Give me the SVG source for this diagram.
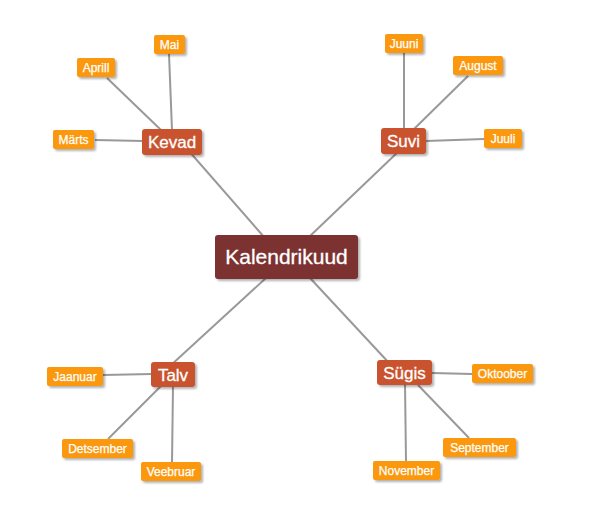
<svg xmlns="http://www.w3.org/2000/svg" width="603" height="532" viewBox="0 0 603 532">
<defs>
<filter id="sh" x="-20%" y="-20%" width="150%" height="160%">
<feDropShadow dx="2" dy="2" stdDeviation="1.2" flood-color="#000" flood-opacity="0.3"/>
</filter>
<style>
.ln{stroke:#999;stroke-width:2;fill:none}
.m rect{fill:#fb980e;filter:url(#sh)}
.m text{fill:#fff;font-family:"Liberation Sans",Arial,sans-serif;font-size:12px;text-anchor:middle;stroke:#fff;stroke-width:0.25}
.s rect{fill:#c8522e;filter:url(#sh)}
.s text{fill:#fff;font-family:"Liberation Sans",Arial,sans-serif;font-size:17px;text-anchor:middle;stroke:#fff;stroke-width:0.3}
.c rect{fill:#7d3131;filter:url(#sh)}
.c text{fill:#fff;font-family:"Liberation Sans",Arial,sans-serif;font-size:21px;text-anchor:middle;stroke:#fff;stroke-width:0.3}
</style>
</defs>
<rect width="603" height="532" fill="#fff"/>
<g id="connectors">
<line class="ln" x1="188" y1="150" x2="264" y2="237"/>
<line class="ln" x1="400" y1="150" x2="309" y2="237"/>
<line class="ln" x1="170" y1="366" x2="266" y2="278"/>
<line class="ln" x1="390" y1="364" x2="310" y2="278"/>
<line class="ln" x1="95" y1="140" x2="143" y2="141"/>
<line class="ln" x1="107" y1="78" x2="161" y2="130"/>
<line class="ln" x1="169" y1="54" x2="172" y2="130"/>
<line class="ln" x1="404" y1="53" x2="404" y2="129"/>
<line class="ln" x1="468" y1="76" x2="414" y2="129"/>
<line class="ln" x1="426" y1="141" x2="484" y2="139"/>
<line class="ln" x1="103" y1="375" x2="152" y2="374"/>
<line class="ln" x1="108" y1="439" x2="161" y2="386"/>
<line class="ln" x1="172" y1="463" x2="173" y2="386"/>
<line class="ln" x1="432" y1="373" x2="472" y2="374"/>
<line class="ln" x1="418" y1="385" x2="469" y2="438"/>
<line class="ln" x1="405" y1="384" x2="406" y2="461"/>
</g>
<g id="center" class="c"><rect x="215" y="235" width="143" height="44" rx="3"/><text x="286.5" y="264">Kalendrikuud</text></g>
<g id="kevad" class="s"><rect x="142" y="129" width="60" height="26" rx="3"/><text x="172" y="148">Kevad</text></g>
<g id="suvi" class="s"><rect x="381" y="128" width="45" height="26" rx="3"/><text x="403.5" y="147">Suvi</text></g>
<g id="talv" class="s"><rect x="151" y="362" width="44" height="25" rx="3"/><text x="173" y="380.5">Talv</text></g>
<g id="sugis" class="s"><rect x="377" y="360" width="55" height="25" rx="3"/><text x="404.5" y="378.5">Sügis</text></g>
<g id="marts" class="m"><rect x="53" y="130" width="41" height="19" rx="2"/><text x="73.5" y="144">Märts</text></g>
<g id="aprill" class="m"><rect x="77" y="58" width="38" height="19" rx="2"/><text x="96" y="72">Aprill</text></g>
<g id="mai" class="m"><rect x="154" y="35" width="31" height="19" rx="2"/><text x="169.5" y="49">Mai</text></g>
<g id="juuni" class="m"><rect x="385" y="34" width="38" height="19" rx="2"/><text x="404" y="48">Juuni</text></g>
<g id="august" class="m"><rect x="453" y="56" width="50" height="19" rx="2"/><text x="478" y="70">August</text></g>
<g id="juuli" class="m"><rect x="484" y="129" width="38" height="19" rx="2"/><text x="503" y="143">Juuli</text></g>
<g id="jaanuar" class="m"><rect x="47" y="367" width="56" height="19" rx="2"/><text x="75" y="381">Jaanuar</text></g>
<g id="detsember" class="m"><rect x="62" y="439" width="71" height="19" rx="2"/><text x="97.5" y="453">Detsember</text></g>
<g id="veebruar" class="m"><rect x="141" y="462" width="60" height="19" rx="2"/><text x="171" y="476">Veebruar</text></g>
<g id="oktoober" class="m"><rect x="472" y="364" width="61" height="19" rx="2"/><text x="502.5" y="378">Oktoober</text></g>
<g id="september" class="m"><rect x="443" y="438" width="73" height="19" rx="2"/><text x="479.5" y="452">September</text></g>
<g id="november" class="m"><rect x="373" y="461" width="67" height="19" rx="2"/><text x="406.5" y="475">November</text></g>
</svg>
